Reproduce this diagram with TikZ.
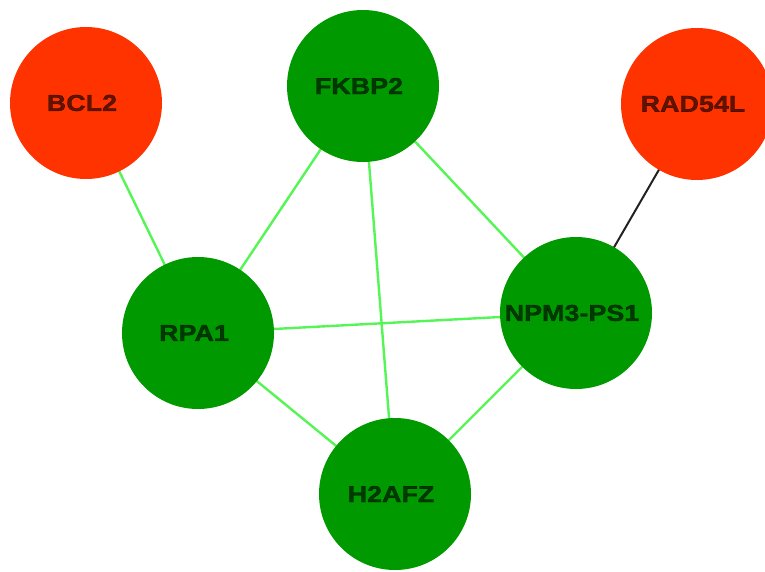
\documentclass[tikz,border=0pt]{standalone}
\usepackage{fontspec}
\usetikzlibrary{backgrounds}
\newfontfamily\genefont{Liberation Sans Bold}[FakeStretch=1.17, FakeBold=1.3]
\definecolor{genegreen}{HTML}{009900}
\definecolor{genered}{HTML}{FF3300}
\definecolor{linkgreen}{HTML}{55F555}
\definecolor{linkdark}{HTML}{222222}
\tikzset{
  gene/.style={circle, minimum size=152pt, inner sep=0pt, draw=none,
    label={[genelabel]center:#1}},
  genelabel/.style={xshift=-4pt, text=black, text opacity=0.62,
    font=\genefont\fontsize{23}{23}\selectfont},
  upgene/.style={gene=#1, fill=genegreen},
  downgene/.style={gene=#1, fill=genered},
  link/.style={draw=linkgreen, line width=2.4pt},
  darklink/.style={draw=linkdark, line width=2pt},
}
\begin{document}
\begin{tikzpicture}[x=1pt, y=-1pt]
  \useasboundingbox (0,0) rectangle (765,571);
  \clip (0,0) rectangle (765,571);
  % interactors
  \node[downgene=BCL2]     (bcl2)   at (86,103)  {};
  \node[upgene=FKBP2]      (fkbp2)  at (363,86)  {};
  \node[downgene=RAD54L]   (rad54l) at (697,104) {};
  \node[upgene=RPA1]       (rpa1)   at (198,333) {};
  \node[upgene=NPM3-PS1]   (npm3)   at (576,313) {};
  \node[upgene=H2AFZ]      (h2afz)  at (395,494) {};
  % interactions, kept behind the circles
  \begin{scope}[on background layer]
    \path[link] (bcl2.center) -- (rpa1.center);
    \path[link] (fkbp2.center) -- (rpa1.center);
    \path[link] (fkbp2.center) -- (h2afz.center);
    \path[link] (fkbp2.center) -- (npm3.center);
    \path[link] (rpa1.center) -- (npm3.center);
    \path[link] (rpa1.center) -- (h2afz.center);
    \path[link] (npm3.center) -- (h2afz.center);
    \path[darklink] (rad54l.center) -- (npm3.center);
  \end{scope}
\end{tikzpicture}
\end{document}
